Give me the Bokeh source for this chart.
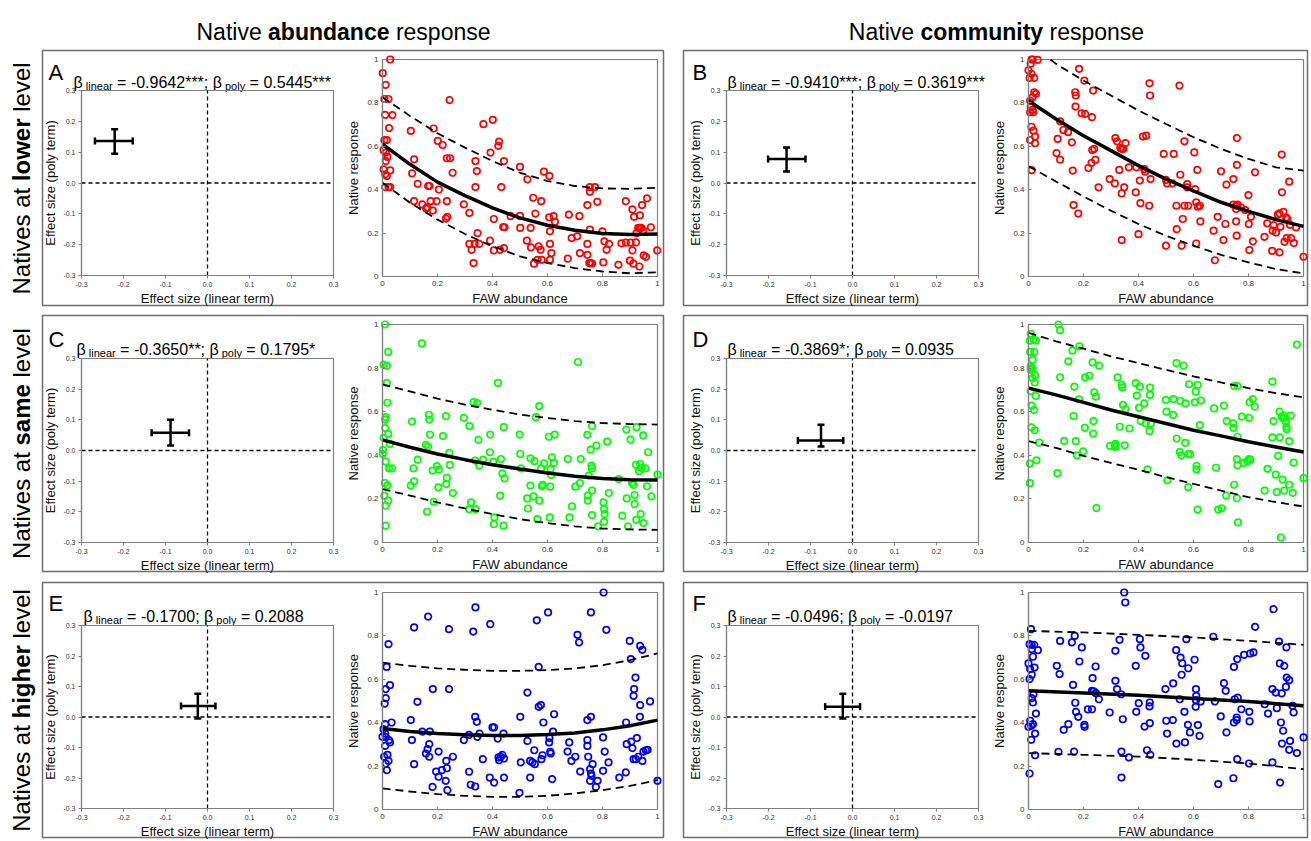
import math
from bokeh.plotting import figure
from bokeh.models import (Range1d, LinearAxis, FixedTicker, CustomJSTickFormatter,
                          Whisker, TeeHead, ColumnDataSource)
from bokeh.core.properties import value
from bokeh.embed import file_html
from bokeh.resources import INLINE

# ---------------- data ----------------
EFF_LIM = [-0.3, 0.3]
EFF_TICKS = [-0.3, -0.2, -0.1, 0.0, 0.1, 0.2, 0.3]
SCA_LIM = [0.0, 1.0]
SCA_TICKS = [0.0, 0.2, 0.4, 0.6, 0.8, 1.0]

GRID11 = [0.0, 0.1, 0.2, 0.3, 0.4, 0.5, 0.6, 0.7, 0.8, 0.9, 1.0]
GRID_B_UP = [0.08, 0.1, 0.2, 0.3, 0.4, 0.5, 0.6, 0.7, 0.8, 0.9, 1.0]
GRID6 = [0.0, 0.2, 0.4, 0.6, 0.8, 1.0]

A_x = [0.028,0.001,0.012,0.007,0.022,0.01,0.036,0.024,0.007,0.016,0.004,0.012,0.018,0.012,0.004,0.01,0.016,0.028,0.01,0.022,0.028,
       0.103,0.115,0.108,0.128,0.115,0.145,0.163,0.159,0.166,0.171,0.175,0.183,0.186,0.201,0.205,0.197,0.219,0.234,0.246,0.234,0.236,0.231,0.244,0.255,
       0.296,0.316,0.316,0.324,0.335,0.352,0.331,0.338,0.343,0.338,0.346,0.367,0.391,0.393,0.401,0.405,0.405,0.421,0.424,0.427,0.432,0.442,0.439,0.444,0.442,0.466,
       0.5,0.501,0.5,0.525,0.527,0.539,0.54,0.548,0.556,0.551,0.564,0.568,0.575,0.579,0.577,0.587,0.607,0.606,0.622,0.627,0.609,0.609,0.614,0.609,
       0.674,0.678,0.688,0.708,0.716,0.718,0.745,0.745,0.745,0.752,0.757,0.762,0.754,0.754,0.754,0.773,0.781,
       0.8,0.803,0.807,0.815,0.824,0.858,0.869,0.885,0.902,0.885,0.9,0.909,0.909,0.912,0.915,0.922,0.924,0.93,0.936,0.942,0.936,0.934,0.944,0.948,0.95,0.958,0.962,0.976,0.999]
A_y = [1.0,0.937,0.883,0.818,0.818,0.745,0.744,0.684,0.628,0.628,0.582,0.571,0.551,0.532,0.494,0.471,0.463,0.489,0.412,0.412,0.412,
       0.671,0.54,0.475,0.427,0.347,0.332,0.319,0.313,0.417,0.417,0.347,0.304,0.682,0.625,0.401,0.347,0.606,0.545,0.545,0.347,0.275,0.267,0.813,0.478,
       0.332,0.293,0.15,0.123,0.15,0.15,0.062,0.532,0.486,0.412,0.2,0.702,0.165,0.571,0.722,0.265,0.12,0.602,0.622,0.123,0.412,0.131,0.228,0.227,0.532,0.278,
       0.505,0.224,0.279,0.165,0.448,0.224,0.134,0.363,0.29,0.059,0.077,0.139,0.123,0.077,0.347,0.483,0.463,0.273,0.278,0.252,0.208,0.15,0.108,0.077,
       0.082,0.285,0.177,0.185,0.278,0.108,0.15,0.1,0.329,0.062,0.062,0.06,0.216,0.39,0.412,0.412,0.344,
       0.208,0.065,0.162,0.123,0.15,0.054,0.153,0.156,0.156,0.347,0.073,0.309,0.12,0.059,0.275,0.157,0.2,0.224,0.224,0.224,0.282,0.046,0.329,0.211,0.097,0.09,0.36,0.227,0.12]

B_x = [0.011,0.015,0.033,0.008,0.0,0.011,0.004,0.021,0.006,0.015,0.021,0.027,0.008,0.015,0.006,0.017,0.011,0.018,0.024,0.024,0.006,0.012,
       0.115,0.106,0.127,0.144,0.102,0.115,0.158,0.161,0.164,0.181,0.17,0.172,0.171,0.184,0.203,0.193,0.206,0.231,0.235,0.232,0.239,0.243,0.218,0.229,0.255,
       0.295,0.314,0.316,0.322,0.334,0.34,0.345,0.353,0.33,0.339,0.348,0.339,0.365,0.392,0.39,0.4,0.405,0.407,0.416,0.428,0.421,0.424,0.44,0.442,0.439,0.444,
       0.492,0.5,0.5,0.504,0.524,0.528,0.538,0.539,0.549,0.552,0.557,0.561,0.567,0.567,0.581,0.577,0.577,0.603,0.606,0.61,0.616,0.614,0.623,0.61,0.625,
       0.678,0.673,0.688,0.7,0.709,0.716,0.72,0.745,0.745,0.755,0.761,0.773,0.755,0.758,0.758,0.755,0.757,0.788,
       0.8,0.801,0.803,0.809,0.816,0.824,0.858,0.868,0.886,0.888,0.891,0.9,0.907,0.913,0.913,0.916,0.921,0.922,0.927,0.931,0.937,0.941,0.939,0.948,0.951,0.955,0.965,0.973,1.0]
B_y = [1.0,1.0,0.998,0.98,0.95,0.934,0.915,0.915,0.81,0.826,0.849,0.842,0.78,0.768,0.757,0.757,0.69,0.672,0.645,0.614,0.629,0.49,
       0.715,0.634,0.675,0.665,0.569,0.538,0.618,0.488,0.329,0.29,0.849,0.834,0.783,0.957,0.903,0.752,0.749,0.734,0.857,0.583,0.588,0.537,0.5,0.523,0.411,
       0.449,0.429,0.638,0.623,0.592,0.588,0.588,0.615,0.491,0.383,0.411,0.168,0.503,0.503,0.388,0.195,0.442,0.338,0.645,0.649,0.495,0.483,0.89,0.834,0.326,0.449,
       0.565,0.142,0.445,0.429,0.429,0.565,0.326,0.218,0.88,0.469,0.142,0.265,0.623,0.326,0.326,0.426,0.411,0.572,0.403,0.342,0.322,0.491,0.326,0.152,0.254,
       0.075,0.211,0.275,0.485,0.168,0.242,0.423,0.449,0.331,0.326,0.331,0.318,0.311,0.638,0.514,0.254,0.188,0.306,
       0.375,0.242,0.122,0.275,0.162,0.48,0.183,0.245,0.118,0.211,0.237,0.203,0.285,0.291,0.111,0.229,0.562,0.388,0.298,0.16,0.272,0.265,0.177,0.437,0.238,0.177,0.154,0.226,0.091]

C_x = [0.009,0.004,0.016,0.021,0.016,0.018,0.012,0.01,0.01,0.021,0.004,0.027,0.002,0.001,0.012,0.024,0.035,0.009,0.018,0.007,0.021,0.012,0.012,
       0.143,0.107,0.128,0.113,0.115,0.103,0.158,0.166,0.169,0.17,0.173,0.182,0.186,0.162,0.198,0.205,0.203,0.22,0.231,0.234,0.232,0.243,0.245,0.256,
       0.296,0.316,0.322,0.316,0.339,0.331,0.344,0.337,0.349,0.352,0.366,0.391,0.392,0.403,0.407,0.405,0.42,0.428,0.431,0.436,0.444,0.441,0.44,
       0.499,0.501,0.504,0.526,0.549,0.529,0.538,0.553,0.538,0.558,0.563,0.57,0.57,0.577,0.58,0.583,0.588,0.605,0.608,0.61,0.614,0.611,0.616,0.623,0.626,
       0.674,0.68,0.689,0.701,0.711,0.718,0.721,0.745,0.747,0.747,0.75,0.757,0.76,0.762,0.762,0.762,0.762,0.778,0.784,
       0.804,0.806,0.808,0.806,0.817,0.823,0.859,0.872,0.887,0.888,0.893,0.902,0.908,0.913,0.917,0.917,0.922,0.933,0.937,0.924,0.923,0.941,0.939,0.948,0.949,0.956,0.962,0.966,0.978,1.0]
C_y = [1.0,0.816,0.81,0.874,0.732,0.641,0.575,0.564,0.525,0.498,0.48,0.452,0.425,0.406,0.371,0.34,0.34,0.273,0.261,0.215,0.192,0.169,0.077,
       0.913,0.555,0.38,0.34,0.281,0.261,0.448,0.44,0.586,0.564,0.495,0.33,0.187,0.141,0.35,0.334,0.253,0.488,0.58,0.296,0.268,0.411,0.356,0.227,
       0.572,0.534,0.184,0.153,0.153,0.644,0.64,0.376,0.471,0.353,0.38,0.414,0.495,0.371,0.115,0.084,0.732,0.215,0.383,0.317,0.294,0.529,0.077,
       0.495,0.406,0.34,0.202,0.212,0.156,0.386,0.373,0.261,0.575,0.107,0.626,0.192,0.34,0.258,0.264,0.363,0.485,0.115,0.256,0.31,0.337,0.391,0.365,0.495,
       0.383,0.115,0.166,0.256,0.828,0.273,0.383,0.494,0.215,0.192,0.307,0.426,0.353,0.34,0.534,0.238,0.126,0.445,0.074,
       0.184,0.153,0.13,0.095,0.463,0.227,0.291,0.123,0.518,0.202,0.074,0.472,0.273,0.264,0.218,0.176,0.356,0.327,0.36,0.529,0.104,0.342,0.13,0.491,0.089,0.34,0.258,0.414,0.212,0.311]

D_x = [0.008,0.005,0.018,0.027,0.006,0.021,0.015,0.008,0.011,0.015,0.008,0.024,0.015,0.023,0.008,0.027,0.012,0.021,0.011,0.023,0.039,0.005,0.029,0.005,
       0.109,0.115,0.115,0.105,0.13,0.145,0.16,0.167,0.164,0.172,0.176,0.184,0.185,0.199,0.206,0.221,0.205,0.233,0.235,0.236,0.239,0.245,0.257,0.247,
       0.297,0.314,0.316,0.316,0.324,0.332,0.339,0.341,0.344,0.35,0.353,0.367,0.39,0.394,0.405,0.402,0.408,0.421,0.427,0.433,0.442,0.442,0.445,0.44,
       0.5,0.502,0.505,0.526,0.527,0.538,0.539,0.55,0.556,0.552,0.564,0.57,0.571,0.581,0.588,0.581,0.584,0.605,0.608,0.611,0.611,0.615,0.615,0.623,0.627,
       0.675,0.682,0.69,0.702,0.711,0.721,0.719,0.744,0.745,0.748,0.76,0.748,0.76,0.758,0.76,0.758,0.762,0.776,0.784,0.796,0.802,0.806,0.804,0.802,0.816,0.823,
       0.859,0.869,0.887,0.891,0.887,0.899,0.903,0.908,0.913,0.914,0.921,0.927,0.93,0.918,0.924,0.93,0.936,0.938,0.939,0.948,0.948,0.954,0.961,0.964,0.976,1.0]
D_y = [0.957,0.926,0.931,0.926,0.874,0.874,0.838,0.808,0.8,0.797,0.792,0.766,0.754,0.734,0.695,0.672,0.628,0.608,0.528,0.515,0.458,0.362,0.377,0.272,
       1.0,0.974,0.758,0.318,0.466,0.831,0.88,0.715,0.58,0.465,0.4,0.657,0.9,0.418,0.757,0.765,0.526,0.826,0.5,0.557,0.689,0.669,0.811,0.158,
       0.443,0.446,0.438,0.452,0.757,0.531,0.723,0.711,0.631,0.446,0.612,0.523,0.731,0.674,0.715,0.618,0.557,0.638,0.546,0.335,0.711,0.677,0.546,0.511,
       0.654,0.6,0.285,0.585,0.658,0.823,0.477,0.415,0.4,0.649,0.811,0.457,0.638,0.405,0.405,0.254,0.726,0.643,0.692,0.351,0.335,0.723,0.151,0.538,0.651,
       0.615,0.343,0.151,0.157,0.628,0.557,0.215,0.546,0.526,0.718,0.718,0.265,0.485,0.382,0.354,0.203,0.092,0.577,0.365,0.372,0.382,0.38,0.643,0.572,0.658,0.623,
       0.238,0.338,0.738,0.557,0.482,0.311,0.231,0.397,0.6,0.482,0.577,0.569,0.582,0.023,0.289,0.238,0.554,0.531,0.52,0.265,0.465,0.582,0.228,0.366,0.908,0.295]

E_x = [0.022,0.015,0.012,0.027,0.012,0.008,0.033,0.01,0.004,0.01,0.0,0.012,0.024,0.027,0.01,0.006,0.018,0.022,0.012,0.016,
       0.115,0.103,0.127,0.107,0.115,0.145,0.166,0.158,0.164,0.17,0.17,0.172,0.183,0.182,0.195,0.204,0.204,0.216,0.232,0.234,0.23,0.236,0.242,0.242,0.256,
       0.296,0.315,0.315,0.321,0.337,0.33,0.338,0.337,0.343,0.345,0.353,0.365,0.39,0.392,0.4,0.406,0.406,0.419,0.422,0.424,0.43,0.436,0.442,0.44,0.442,
       0.498,0.501,0.503,0.527,0.527,0.537,0.545,0.554,0.537,0.552,0.561,0.568,0.576,0.568,0.578,0.582,0.585,0.602,0.606,0.607,0.61,0.612,0.617,0.624,0.62,
       0.679,0.673,0.687,0.701,0.709,0.715,0.719,0.745,0.745,0.745,0.748,0.755,0.758,0.76,0.755,0.758,0.758,0.764,0.776,0.782,
       0.802,0.802,0.804,0.808,0.814,0.822,0.861,0.885,0.888,0.886,0.899,0.903,0.905,0.909,0.913,0.921,0.913,0.915,0.92,0.925,0.93,0.936,0.937,0.945,0.937,0.945,0.949,0.958,0.964,0.973,1.0]
E_y = [0.762,0.657,0.555,0.573,0.513,0.488,0.401,0.393,0.37,0.35,0.335,0.335,0.32,0.309,0.293,0.243,0.252,0.224,0.212,0.181,
       0.839,0.412,0.496,0.32,0.209,0.359,0.889,0.258,0.278,0.301,0.243,0.359,0.555,0.104,0.175,0.151,0.267,0.181,0.224,0.19,0.132,0.089,0.831,0.555,0.243,
       0.32,0.344,0.174,0.114,0.106,0.82,0.931,0.427,0.404,0.335,0.35,0.232,0.147,0.854,0.378,0.378,0.124,0.327,0.24,0.227,0.243,0.252,0.235,0.35,0.147,
       0.077,0.427,0.217,0.539,0.316,0.224,0.217,0.209,0.147,0.273,0.872,0.473,0.481,0.657,0.232,0.25,0.401,0.908,0.309,0.329,0.266,0.258,0.14,0.439,0.359,
       0.309,0.267,0.224,0.243,0.805,0.77,0.175,0.412,0.32,0.293,0.243,0.186,0.166,0.155,0.132,0.908,0.427,0.209,0.104,0.132,
       0.332,0.178,1.0,0.267,0.828,0.217,0.147,0.171,0.301,0.401,0.777,0.693,0.313,0.283,0.232,0.232,0.524,0.555,0.608,0.329,0.243,0.427,0.754,0.736,0.481,0.224,0.267,0.273,0.275,0.498,0.132]

F_x = [0.009,0.004,0.012,0.021,0.012,0.034,0.016,0.022,0.0,0.006,0.012,0.004,0.018,0.012,0.016,0.027,0.006,0.016,0.01,0.0,0.024,0.01,0.024,0.004,
       0.103,0.113,0.115,0.109,0.128,0.145,0.158,0.168,0.162,0.166,0.17,0.173,0.181,0.185,0.194,0.203,0.204,0.216,0.231,0.231,0.237,0.233,0.244,0.245,0.256,
       0.295,0.316,0.316,0.322,0.331,0.337,0.338,0.338,0.343,0.348,0.352,0.365,0.39,0.392,0.401,0.405,0.407,0.422,0.425,0.431,0.44,0.441,0.441,0.443,
       0.498,0.501,0.504,0.526,0.525,0.537,0.538,0.55,0.553,0.559,0.557,0.567,0.569,0.574,0.58,0.581,0.587,0.604,0.609,0.61,0.609,0.608,0.616,0.622,0.626,
       0.672,0.678,0.69,0.699,0.711,0.717,0.72,0.745,0.747,0.747,0.75,0.757,0.757,0.759,0.761,0.759,0.774,0.784,0.806,0.818,0.803,0.804,0.802,0.824,
       0.859,0.871,0.887,0.891,0.887,0.899,0.903,0.911,0.914,0.918,0.915,0.921,0.922,0.926,0.93,0.936,0.939,0.948,0.938,0.951,0.948,0.96,0.964,0.976,1.0]
F_y = [0.831,0.762,0.759,0.759,0.739,0.734,0.704,0.654,0.673,0.647,0.621,0.601,0.531,0.513,0.493,0.442,0.409,0.393,0.386,0.381,0.35,0.321,0.25,0.166,
       0.662,0.624,0.777,0.266,0.367,0.393,0.77,0.8,0.574,0.267,0.492,0.45,0.427,0.682,0.747,0.39,0.381,0.461,0.462,0.547,0.544,0.605,0.659,0.536,0.508,
       0.447,0.731,0.593,0.555,0.782,0.531,0.267,0.147,0.416,1.0,0.954,0.24,0.662,0.45,0.49,0.785,0.747,0.382,0.708,0.273,0.475,0.493,0.398,0.252,
       0.555,0.409,0.35,0.581,0.412,0.734,0.304,0.508,0.7,0.674,0.621,0.45,0.309,0.785,0.39,0.651,0.355,0.69,0.555,0.524,0.504,0.473,0.389,0.339,0.498,
       0.796,0.498,0.117,0.429,0.582,0.547,0.355,0.144,0.657,0.401,0.508,0.424,0.412,0.693,0.516,0.232,0.462,0.713,0.719,0.724,0.45,0.406,0.212,0.842,
       0.485,0.442,0.555,0.923,0.217,0.539,0.467,0.774,0.673,0.401,0.124,0.535,0.304,0.363,0.662,0.565,0.608,0.596,0.747,0.316,0.275,0.478,0.447,0.26,0.332]

# fitted curves and bounds
A_fit = [0.61,0.517,0.435,0.373,0.316,0.27,0.236,0.213,0.198,0.193,0.196]
A_up = [0.826,0.74,0.66,0.594,0.532,0.478,0.44,0.417,0.406,0.404,0.409]
A_lo = [0.432,0.34,0.262,0.196,0.139,0.093,0.062,0.039,0.023,0.015,0.019]
B_fit = [0.81,0.726,0.649,0.58,0.511,0.449,0.395,0.342,0.3,0.262,0.231]
B_up = [1.0,0.98,0.903,0.834,0.765,0.703,0.642,0.588,0.542,0.503,0.488]
B_lo = [0.508,0.438,0.369,0.303,0.242,0.188,0.142,0.1,0.065,0.034,0.014]
C_fit = [0.471,0.437,0.406,0.38,0.357,0.337,0.319,0.304,0.294,0.288,0.287]
C_up = [0.725,0.693,0.66,0.632,0.609,0.587,0.571,0.557,0.548,0.543,0.541]
C_lo = [0.245,0.215,0.184,0.156,0.13,0.107,0.089,0.074,0.064,0.06,0.058]
D_fit = [0.708,0.677,0.643,0.608,0.577,0.546,0.515,0.489,0.462,0.438,0.415]
D_up = [0.962,0.923,0.889,0.854,0.823,0.792,0.762,0.734,0.708,0.685,0.666]
D_lo = [0.465,0.434,0.397,0.365,0.334,0.3,0.269,0.238,0.208,0.185,0.165]
E_fit = [0.373,0.359,0.35,0.344,0.341,0.341,0.346,0.353,0.367,0.386,0.412]
E_up = [0.677,0.662,0.65,0.644,0.639,0.639,0.642,0.65,0.665,0.688,0.719]
E_lo = [0.097,0.083,0.071,0.063,0.058,0.058,0.063,0.074,0.089,0.109,0.135]
F_fit = [0.547,0.537,0.526,0.512,0.498,0.478]
F_up = [0.823,0.816,0.805,0.793,0.777,0.759]
F_lo = [0.26,0.252,0.244,0.229,0.212,0.186]

# effect sizes: (linear, linear_low, linear_high, poly, poly_low, poly_high)
A_eff = [-0.221, -0.268, -0.178, 0.136, 0.095, 0.174]
B_eff = [-0.157, -0.201, -0.112, 0.078, 0.037, 0.115]
C_eff = [-0.088, -0.133, -0.044, 0.058, 0.016, 0.100]
D_eff = [-0.075, -0.130, -0.022, 0.033, 0.013, 0.084]
E_eff = [-0.023, -0.063, 0.019, 0.036, -0.005, 0.076]
F_eff = [-0.023, -0.065, 0.018, 0.034, -0.005, 0.076]

BETA_LIN = ["-0.9642***", "-0.9410***", "-0.3650**", "-0.3869*", "-0.1700", "-0.0496"]
BETA_POLY = ["0.5445***", "0.3619***", "0.1795*", "0.0935", "0.2088", "-0.0197"]
LETTERS = ["A", "B", "C", "D", "E", "F"]
COL_TITLES = [("Native ", "abundance", " response"), ("Native ", "community", " response")]
ROW_TITLES = [("Natives at ", "lower", " level"), ("Natives at ", "same", " level"), ("Natives at ", "higher", " level")]
ROW_COLORS = ["#ff0000", "#00ff00", "#0000ff"]

# ---------------- layout (pixels) ----------------
W, H = 1311, 841
FONT = "Liberation Sans"
GRAY = "#808080"
COLS = [dict(box=(42, 663), eff=(81, 333), sca=(382, 657), letter_x=48, title_x=343),
        dict(box=(683, 1307), eff=(726, 978), sca=(1028, 1303), letter_x=692, title_x=996)]
ROWS = [dict(box=(50, 305), eff=(90, 275), sca=(59, 276), letter_y=72, beta_y=82, label_y=178),
        dict(box=(315, 571), eff=(358, 542), sca=(324, 542), letter_y=339, beta_y=349, label_y=443),
        dict(box=(582, 837), eff=(625, 808), sca=(592, 809), letter_y=603, beta_y=616, label_y=710)]
BETA_X = [73, 727, 76, 727, 83, 727]

PANEL_DATA = [
    (A_x, A_y, [(GRID11, A_fit), (GRID11, A_up), (GRID11, A_lo)], A_eff),
    (B_x, B_y, [(GRID11, B_fit), (GRID_B_UP, B_up), (GRID11, B_lo)], B_eff),
    (C_x, C_y, [(GRID11, C_fit), (GRID11, C_up), (GRID11, C_lo)], C_eff),
    (D_x, D_y, [(GRID11, D_fit), (GRID11, D_up), (GRID11, D_lo)], D_eff),
    (E_x, E_y, [(GRID11, E_fit), (GRID11, E_up), (GRID11, E_lo)], E_eff),
    (F_x, F_y, [(GRID6, F_fit), (GRID6, F_up), (GRID6, F_lo)], F_eff),
]

p = figure(width=W, height=H, x_range=Range1d(0, W), y_range=Range1d(H, 0),
           min_border=0, toolbar_location=None, output_backend="svg",
           x_axis_type=None, y_axis_type=None, outline_line_color=None)
p.background_fill_color = "white"
p.border_fill_color = "white"

# ---- text helpers (Arial / Liberation Sans advance widths) ----
REG = {' ': 278, 'N': 722, 'a': 556, 't': 278, 'i': 222, 'v': 500, 'e': 556, 's': 500, 'r': 333,
       'p': 556, 'o': 556, 'n': 556, 'l': 222, '=': 584, '-': 333, '.': 278, '*': 389, ';': 278,
       'y': 500, 'β': 575}
BOLD = {' ': 278, 'a': 556, 'b': 611, 'u': 611, 'n': 611, 'd': 611, 'c': 556, 'e': 556, 'o': 611,
        'm': 889, 'i': 278, 't': 333, 'y': 556, 'l': 278, 'w': 778, 'r': 389, 's': 556, 'h': 611,
        'g': 611}


def tw(s, size, bold):
    tab = BOLD if bold else REG
    return sum(tab.get(ch, 556) for ch in s) / 1000.0 * size


def rich(x, y, pieces, align="left", vertical=False):
    widths = [tw(t, s, b) for t, s, b, d in pieces]
    total = sum(widths)
    pos = y if vertical else x
    if align == "center":
        pos = pos + total / 2 if vertical else pos - total / 2
    for (t, s, b, d), w in zip(pieces, widths):
        stripped = t.lstrip(" ")
        lead = tw(t[:len(t) - len(stripped)], s, b)
        txt = stripped.rstrip(" ")
        kw = dict(text=[txt], text_font=value(FONT), text_font_size=value(f"{s}px"),
                  text_font_style="bold" if b else "normal", text_color="black",
                  text_align="left")
        if vertical:
            p.text(x=[x + d], y=[pos - lead], angle=math.pi / 2, text_baseline="middle", **kw)
            pos -= w
        else:
            p.text(x=[pos + lead], y=[y + d], text_baseline="alphabetic", **kw)
            pos += w


# ---- titles ----
for ci, col in enumerate(COLS):
    a, b, c = COL_TITLES[ci]
    rich(col["title_x"], 31, [(a, 23, False, 0), (b, 23, True, 0), (c, 23, False, 0)], align="center")
for ri, row in enumerate(ROWS):
    a, b, c = ROW_TITLES[ri]
    rich(21, row["label_y"], [(a, 24, False, 0), (b, 24, True, 0), (c, 24, False, 0)],
         align="center", vertical=True)

# ---- sub plot ranges ----
xr, yr = {}, {}


def sub_ranges(name, L, T, R, B, xlim, ylim):
    x0, x1 = xlim
    y0, y1 = ylim
    sx = (x1 - x0) / (R - L)
    sy = (y1 - y0) / (B - T)
    xr[name] = Range1d(x0 - L * sx, x0 + (W - L) * sx)
    yr[name] = Range1d(y0 - (H - B) * sy, y1 + T * sy)


for k in range(6):
    col, row = COLS[k % 2], ROWS[k // 2]
    sub_ranges(f"e{k}", col["eff"][0], row["eff"][0], col["eff"][1], row["eff"][1], EFF_LIM, EFF_LIM)
    sub_ranges(f"s{k}", col["sca"][0], row["sca"][0], col["sca"][1], row["sca"][1], SCA_LIM, SCA_LIM)
p.extra_x_ranges = xr
p.extra_y_ranges = yr


def axes(name, xlim, ylim, ticks, fmt, xlabel, ylabel, t_in, t_out, tick_size, xstand, ystand, lstand):
    common = dict(x_range_name=name, y_range_name=name, axis_line_color=GRAY, axis_line_width=1.2,
                  major_tick_line_color=GRAY, major_tick_in=t_in, major_tick_out=t_out,
                  minor_tick_line_color=None, major_label_text_font=FONT,
                  major_label_text_font_size=tick_size, major_label_text_color="#333333",
                  axis_label_text_font=FONT, axis_label_text_font_size="13px",
                  axis_label_text_font_style="normal", axis_label_text_color="#111111",
                  major_label_standoff=lstand,
                  ticker=FixedTicker(ticks=ticks), formatter=CustomJSTickFormatter(code=fmt))
    ax = LinearAxis(fixed_location=ylim[0], bounds=(xlim[0], xlim[1]), axis_label=xlabel,
                    axis_label_standoff=xstand, **common)
    p.add_layout(ax, "below")
    ay = LinearAxis(fixed_location=xlim[0], bounds=(ylim[0], ylim[1]), axis_label=ylabel,
                    axis_label_standoff=ystand, **common)
    p.add_layout(ay, "left")


for k in range(6):
    col, row = COLS[k % 2], ROWS[k // 2]
    xs, ys, curves, eff = PANEL_DATA[k]
    color = ROW_COLORS[k // 2]
    en, sn = f"e{k}", f"s{k}"
    # outer panel box
    p.quad(left=[col["box"][0]], right=[col["box"][1]], top=[row["box"][0]], bottom=[row["box"][1]],
           fill_color=None, line_color="#6e6e6e", line_width=1.5)
    # letter + beta text
    p.text(x=[col["letter_x"]], y=[row["letter_y"]], text=[LETTERS[k]], text_font=value(FONT),
           text_font_size=value("22px"), text_baseline="alphabetic", text_align="left", text_color="black")
    rich(BETA_X[k], row["beta_y"], [("β", 16, False, 0), (" linear", 11, False, 3),
                                    (" = " + BETA_LIN[k] + "; β", 16, False, 0),
                                    (" poly", 11, False, 3), (" = " + BETA_POLY[k], 16, False, 0)])

    # ---- effect-size plot ----
    p.quad(left=[EFF_LIM[0]], right=[EFF_LIM[1]], bottom=[EFF_LIM[0]], top=[EFF_LIM[1]],
           x_range_name=en, y_range_name=en, fill_color=None, line_color=GRAY, line_width=1.2)
    p.line(x=EFF_LIM, y=[0, 0], x_range_name=en, y_range_name=en, line_color="black",
           line_width=1.3, line_dash="4 3")
    p.line(x=[0, 0], y=EFF_LIM, x_range_name=en, y_range_name=en, line_color="black",
           line_width=1.3, line_dash="4 3")
    src = ColumnDataSource(dict(x=[eff[0]], xl=[eff[1]], xu=[eff[2]], y=[eff[3]], yl=[eff[4]], yu=[eff[5]]))
    for base, lo, up, dim in (("y", "xl", "xu", "width"), ("x", "yl", "yu", "height")):
        wk = Whisker(source=src, base=base, lower=lo, upper=up, dimension=dim,
                     line_color="black", line_width=2.5,
                     upper_head=TeeHead(size=7, line_width=2.5, line_color="black"),
                     lower_head=TeeHead(size=7, line_width=2.5, line_color="black"),
                     x_range_name=en, y_range_name=en, level="overlay")
        p.add_layout(wk)
    axes(en, EFF_LIM, EFF_LIM, EFF_TICKS, "return tick.toFixed(1)",
         "Effect size (linear term)", "Effect size (poly term)", 0, 3, "7px", 1, 2, 3)

    # ---- scatter plot ----
    p.quad(left=[SCA_LIM[0]], right=[SCA_LIM[1]], bottom=[SCA_LIM[0]], top=[SCA_LIM[1]],
           x_range_name=sn, y_range_name=sn, fill_color=None, line_color=GRAY, line_width=1.2)
    n = min(len(xs), len(ys))
    p.scatter(x=xs[:n], y=ys[:n], x_range_name=sn, y_range_name=sn, marker="circle", size=6.5,
              fill_color=None, line_color=color, line_width=1.7)
    (gx, fit), (ux, up), (lx, lo) = curves
    p.line(x=ux, y=up, x_range_name=sn, y_range_name=sn, line_color="black", line_width=1.8, line_dash="8 5")
    p.line(x=lx, y=lo, x_range_name=sn, y_range_name=sn, line_color="black", line_width=1.8, line_dash="8 5")
    p.line(x=gx, y=fit, x_range_name=sn, y_range_name=sn, line_color="black", line_width=3.5)
    axes(sn, SCA_LIM, SCA_LIM, SCA_TICKS, "return String(Math.round(tick * 10) / 10)",
         "FAW abundance", "Native response", 3, 0, "8px", 2, 3, 4)

open("out.html", "w").write(file_html(p, INLINE))
